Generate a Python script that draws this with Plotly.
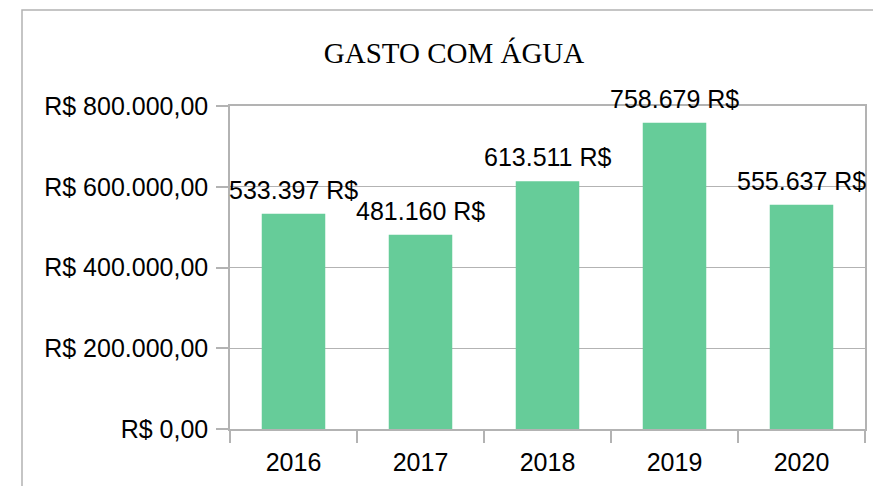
import plotly.graph_objects as go

years = ["2016", "2017", "2018", "2019", "2020"]
values = [533397, 481160, 613511, 758679, 555637]
value_labels = ["533.397 R$", "481.160 R$", "613.511 R$", "758.679 R$", "555.637 R$"]
y_tick_vals = [0, 200000, 400000, 600000, 800000]
y_tick_text = ["R$ 0,00", "R$ 200.000,00", "R$ 400.000,00", "R$ 600.000,00", "R$ 800.000,00"]

BAR = "#66CC99"
GRID = "#b3b3b3"
FONT = "Liberation Sans, Arial, sans-serif"

# plot-area placement (figure pixels; the page adds an 8px body margin)
L, R, T, B = 222, 24, 98, 65
W, H = 881, 486
PW, PH = W - L - R, H - T - B

fig = go.Figure()
fig.add_trace(go.Bar(x=years, y=values, marker=dict(color=BAR, line=dict(width=0)),
                     hoverinfo="skip"))

# value labels above the bars (x = category index on the category axis)
for i, (v, t) in enumerate(zip(values, value_labels)):
    fig.add_annotation(x=i, y=v, xref="x", yref="y", text=t, showarrow=False,
                       xanchor="center", yanchor="bottom", yshift=8,
                       font=dict(family=FONT, size=25, color="#000000"))

fig.update_layout(
    width=W, height=H,
    margin=dict(l=L, r=R, t=T, b=B, autoexpand=False),
    paper_bgcolor="white", plot_bgcolor="white",
    bargap=0.5,
    showlegend=False,
    title=dict(text="GASTO COM ÁGUA", xref="container", yref="container",
               x=446 / W, xanchor="center", y=1 - 45 / H, yanchor="middle",
               font=dict(family="Liberation Serif, Times New Roman, serif", size=29, color="#000000")),
    font=dict(family=FONT, size=25, color="#000000"),
)

fig.update_xaxes(type="category", categoryorder="array", categoryarray=years,
                 range=[-0.5, len(years) - 0.5], autorange=False,
                 showline=True, linecolor=GRID, linewidth=1.5, mirror=True,
                 ticks="outside", tickson="boundaries", ticklen=12, tickcolor=GRID, tickwidth=1.5,
                 ticklabelstandoff=10,
                 showgrid=False, tickangle=0, tickfont=dict(family=FONT, size=25, color="#000000"),
                 automargin=False)
fig.update_yaxes(range=[0, 800000], autorange=False, tickvals=y_tick_vals, ticktext=y_tick_text,
                 showline=True, linecolor=GRID, linewidth=1.5, mirror=True,
                 ticks="outside", ticklen=12, tickcolor=GRID, tickwidth=1.5,
                 ticklabelstandoff=3,
                 showgrid=True, gridcolor=GRID, gridwidth=1.2, zeroline=False,
                 tickfont=dict(family=FONT, size=25, color="#000000"), automargin=False)

# outer chart frame (left and top edges visible)
fig.add_shape(type="rect", xref="paper", yref="paper",
              x0=(14 - L) / PW, x1=(W + 20 - L) / PW,
              y0=-(B + 20) / PH, y1=(H - B - 2) / PH,
              line=dict(color=GRID, width=1.5), fillcolor="rgba(0,0,0,0)", layer="below")

fig.write_html("out.html")
